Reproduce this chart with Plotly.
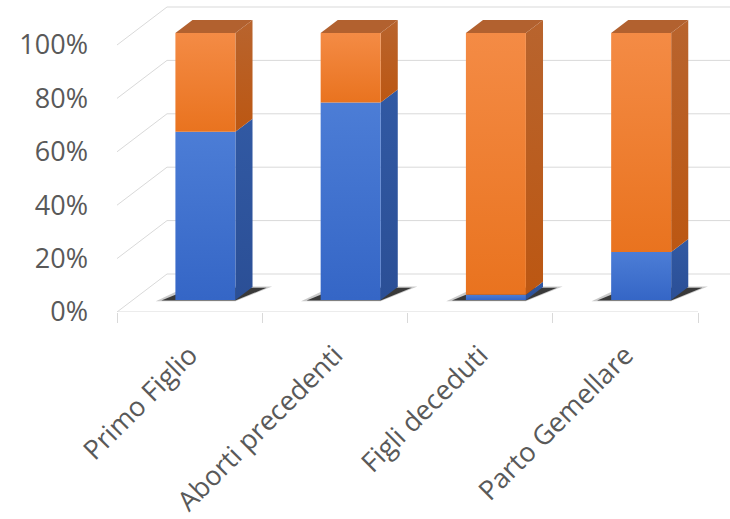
import plotly.graph_objects as go

# ---- data -------------------------------------------------------------
categories = ["Primo Figlio", "Aborti precedenti", "Figli deceduti", "Parto Gemellare"]
share_si = [0.63, 0.74, 0.02, 0.18]
share_no = [0.37, 0.26, 0.98, 0.82]
y_ticks = [0, 0.2, 0.4, 0.6, 0.8, 1.0]
y_tick_text = ["0%", "20%", "40%", "60%", "80%", "100%"]

# ---- oblique 3D projection (data units) --------------------------------
PX_X = 145.25          # pixels per category
PX_Y = 267.0           # pixels per 100 %
DEPTH_X = 50 / PX_X    # full floor depth, horizontal shift
DEPTH_Y = 38 / PX_Y    # full floor depth, vertical shift
F_FRONT = 12 / 38      # bar front plane (fraction of depth)
F_BACK = 25 / 38       # bar back plane
BAR_W = 60 / PX_X
X_MIN = -0.5
X_MAX = X_MIN + 613 / PX_X
Y_MAX = 312 / PX_Y

GRID = "#D9D9D9"
TEXT = "#595959"
FONT = "Open Sans"

BLUE = {"dark": "#3566C6", "light": "#4C7DD6", "side_d": "#2B4F96", "side_l": "#3159A3",
        "top": "#3A63AE"}
ORANGE = {"dark": "#E9731F", "light": "#F48B45", "side_d": "#BC5712", "side_l": "#B8642E",
          "top": "#B2612F"}

fig = go.Figure()


def poly(xs, ys, color, gradient=None):
    kw = dict(fillcolor=color)
    if gradient:
        kw = dict(fillgradient=gradient)
    fig.add_trace(go.Scatter(
        x=xs + [xs[0]], y=ys + [ys[0]], mode="lines", fill="toself",
        line=dict(width=0, color=color), hoverinfo="skip",
        showlegend=False, **kw))


def vgrad(lo_color, hi_color):
    return dict(type="vertical", colorscale=[[0, lo_color], [1, hi_color]])


# ---- walls: back-wall lines and side-wall diagonals -------------------
gx, gy = [], []
for v in y_ticks:
    gx += [X_MIN, X_MIN + DEPTH_X, X_MAX + 1, None]
    gy += [v, v + DEPTH_Y, v + DEPTH_Y, None]
gx += [X_MIN, X_MIN + len(categories), None]
gy += [0, 0, None]
fig.add_trace(go.Scatter(x=gx, y=gy, mode="lines", line=dict(color=GRID, width=1),
                         hoverinfo="skip", showlegend=False))

# ---- bars ------------------------------------------------------------
dfx = (F_BACK - F_FRONT) * DEPTH_X
dfy = (F_BACK - F_FRONT) * DEPTH_Y
for i, cat in enumerate(categories):
    xl = i - BAR_W / 2 + F_FRONT * DEPTH_X
    xr = xl + BAR_W
    y0 = F_FRONT * DEPTH_Y

    # soft floor shadow
    sx = 14 / PX_X
    poly([xl - sx * 1.4, xr, xr + dfx + sx * 1.4, xl + dfx - sx * 0.4],
         [y0 - 0.005, y0 - 0.005, y0 + dfy + 0.002, y0 + dfy + 0.002], "rgba(80,80,80,0.3)")
    poly([xl - sx * 1.0, xr, xr + dfx + sx * 1.0, xl + dfx],
         [y0 - 0.002, y0 - 0.002, y0 + dfy - 0.003, y0 + dfy - 0.003], "rgba(20,20,20,0.8)")

    segments = [(0, share_si[i], BLUE), (share_si[i], share_si[i] + share_no[i], ORANGE)]
    for k, (lo, hi, pal) in enumerate(segments):
        if hi - lo <= 0:
            continue
        yb, yt = lo + y0, hi + y0
        # side face
        poly([xr, xr, xr + dfx, xr + dfx], [yb, yt, yt + dfy, yb + dfy], pal["side_d"],
             gradient=vgrad(pal["side_d"], pal["side_l"]))
        # top face on the last segment
        if k == len(segments) - 1:
            poly([xl, xr, xr + dfx, xl + dfx], [yt, yt, yt + dfy, yt + dfy], pal["top"])
        # front face
        poly([xl, xr, xr, xl], [yb, yb, yt, yt], pal["dark"],
             gradient=vgrad(pal["dark"], pal["light"]))

fig.update_layout(
    width=730, height=519,
    margin=dict(l=117, r=0, t=0, b=207, autoexpand=False),
    paper_bgcolor="white", plot_bgcolor="white",
    font=dict(family=FONT, color=TEXT, size=27),
    xaxis=dict(range=[X_MIN, X_MAX], tickvals=list(range(len(categories))),
               ticktext=categories, tickangle=-45, showgrid=False, zeroline=False,
               showline=False, ticks="", ticklabelstandoff=21, fixedrange=True,
               automargin=False, tickfont=dict(size=27)),
    xaxis2=dict(range=[X_MIN, X_MAX], overlaying="x", side="bottom",
                tickvals=[X_MIN + k for k in range(len(categories) + 1)],
                showticklabels=False, ticks="outside", ticklen=10, tickcolor=GRID,
                showgrid=False, zeroline=False, showline=False, fixedrange=True,
                automargin=False),
    yaxis=dict(range=[0, Y_MAX], tickvals=y_ticks, ticktext=y_tick_text,
               showgrid=False, zeroline=False, showline=False, ticks="",
               ticklabelstandoff=28, fixedrange=True, automargin=False),
    showlegend=False,
)
# bind an empty trace to the tick-only axis so it is drawn
fig.add_trace(go.Scatter(x=[None], y=[None], xaxis="x2", showlegend=False, hoverinfo="skip"))

fig.write_html("out.html")
